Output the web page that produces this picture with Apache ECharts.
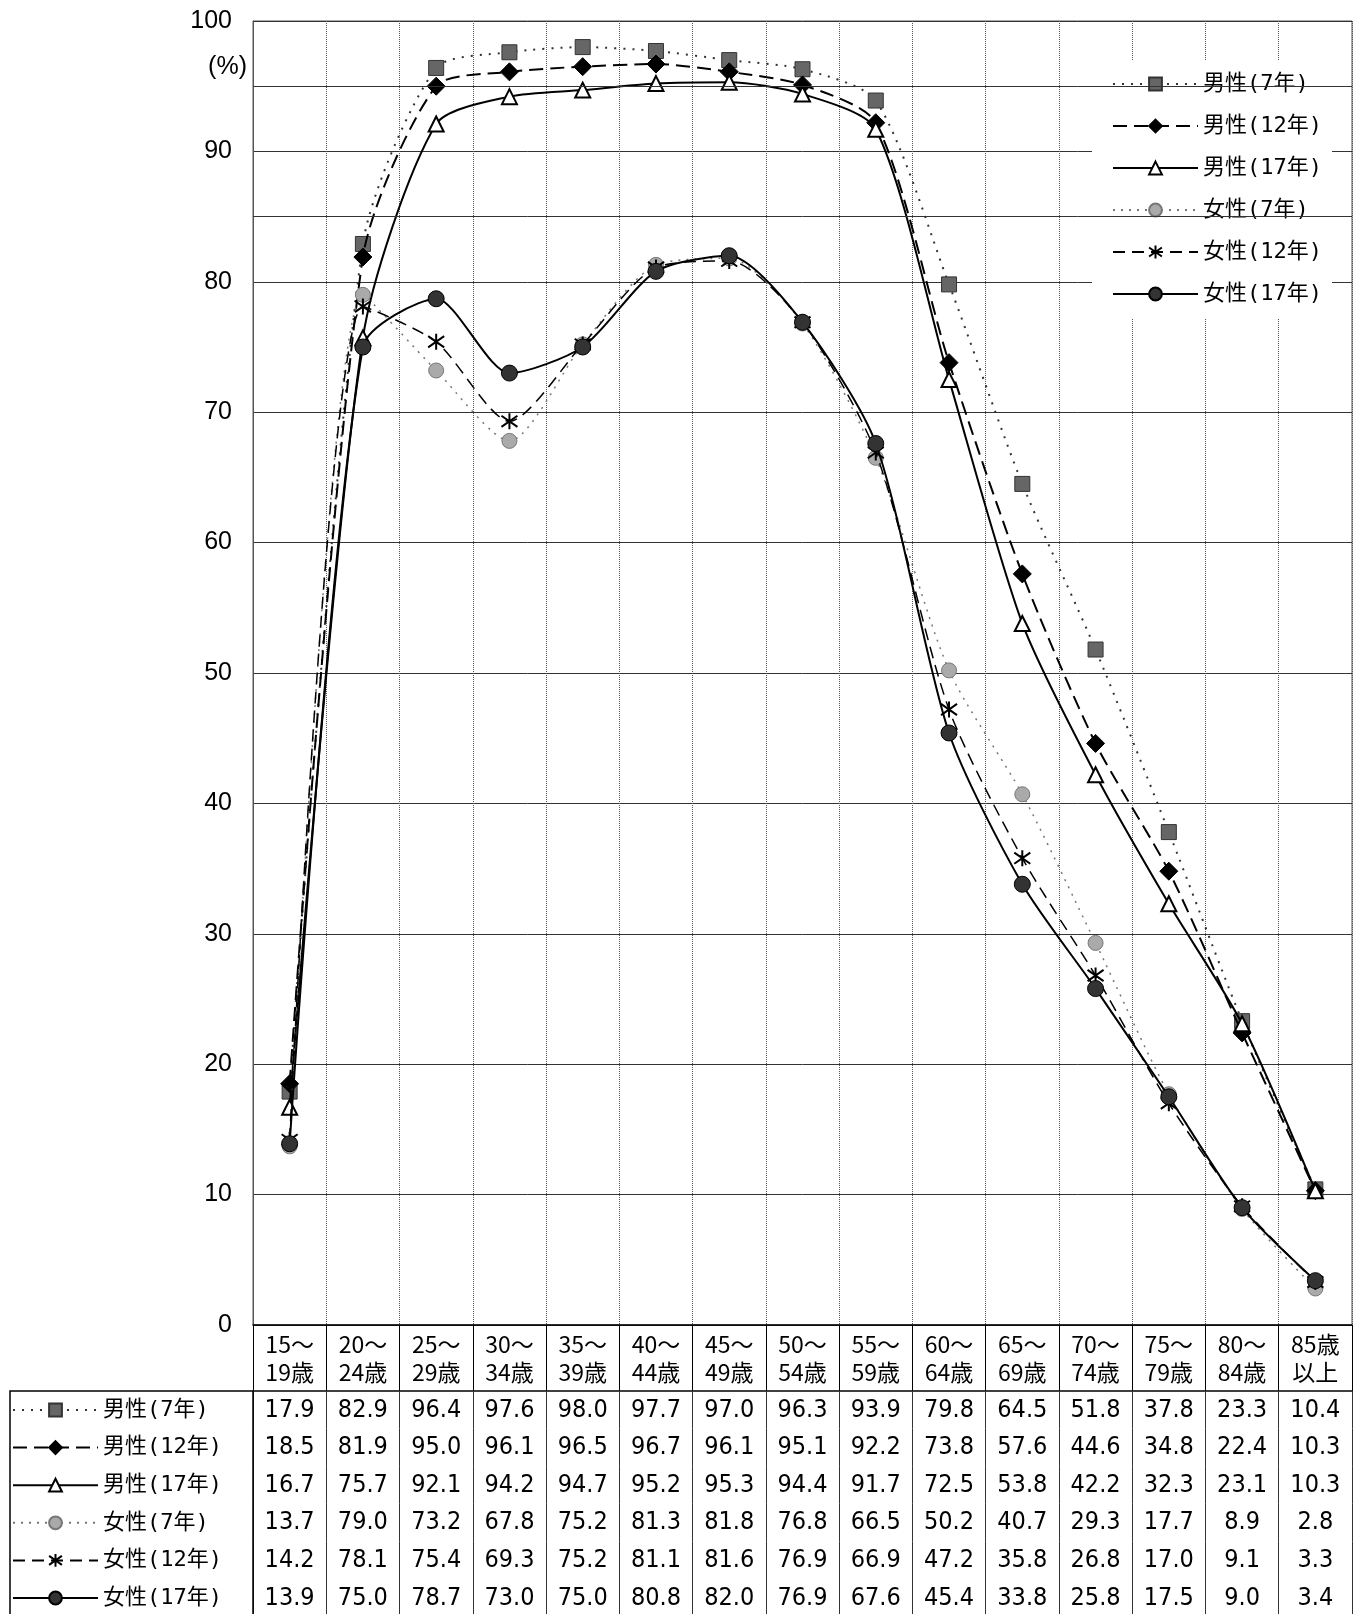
<!DOCTYPE html>
<html><head><meta charset="utf-8">
<script src="https://cdn.jsdelivr.net/npm/echarts@6/dist/echarts.min.js"></script>
<style>html,body{margin:0;padding:0;background:#fff}#c{width:1354px;height:1614px}</style>
</head><body><div id="c"></div>
<script>
const categories = ['15～\n19歳','20～\n24歳','25～\n29歳','30～\n34歳','35～\n39歳','40～\n44歳','45～\n49歳','50～\n54歳','55～\n59歳','60～\n64歳','65～\n69歳','70～\n74歳','75～\n79歳','80～\n84歳','85歳\n以上'];
const seriesNames = ['男性(7年)','男性(12年)','男性(17年)','女性(7年)','女性(12年)','女性(17年)'];
const male7   = [17.9, 82.9, 96.4, 97.6, 98.0, 97.7, 97.0, 96.3, 93.9, 79.8, 64.5, 51.8, 37.8, 23.3, 10.4];
const male12  = [18.5, 81.9, 95.0, 96.1, 96.5, 96.7, 96.1, 95.1, 92.2, 73.8, 57.6, 44.6, 34.8, 22.4, 10.3];
const male17  = [16.7, 75.7, 92.1, 94.2, 94.7, 95.2, 95.3, 94.4, 91.7, 72.5, 53.8, 42.2, 32.3, 23.1, 10.3];
const female7 = [13.7, 79.0, 73.2, 67.8, 75.2, 81.3, 81.8, 76.8, 66.5, 50.2, 40.7, 29.3, 17.7, 8.9, 2.8];
const female12= [14.2, 78.1, 75.4, 69.3, 75.2, 81.1, 81.6, 76.9, 66.9, 47.2, 35.8, 26.8, 17.0, 9.1, 3.3];
const female17= [13.9, 75.0, 78.7, 73.0, 75.0, 80.8, 82.0, 76.9, 67.6, 45.4, 33.8, 25.8, 17.5, 9.0, 3.4];
const extraGridLines = [85, 95];
const yMin = 0, yMax = 100, yStep = 10;

const rows = [male7, male12, male17, female7, female12, female17];
const JP = "'Noto Sans CJK JP', 'Noto Sans', sans-serif";
const LEG = "'DejaVu Sans Mono', 'Noto Sans CJK JP', sans-serif";
const NARROW = "'Liberation Sans Narrow', 'DejaVu Sans Condensed', 'Liberation Sans', sans-serif";

const styles = [
  {symbol:'rect', symbolSize:15, lineStyle:{color:'#333', width:2, type:[2,7]}, itemStyle:{color:'#666', borderColor:'#333', borderWidth:1}},
  {symbol:'diamond', symbolSize:18, lineStyle:{color:'#000', width:2, type:[14,7]}, itemStyle:{color:'#000', borderColor:'#000', borderWidth:1}},
  {symbol:'triangle', symbolSize:15, lineStyle:{color:'#000', width:2, type:'solid'}, itemStyle:{color:'#fff', borderColor:'#000', borderWidth:2}},
  {symbol:'circle', symbolSize:15, lineStyle:{color:'#777', width:1.5, type:[2,6]}, itemStyle:{color:'#aaa', borderColor:'#777', borderWidth:1}},
  {symbol:'path://M10,0 L10,20 M1,3 L19,17 M1,17 L19,3', symbolSize:16, lineStyle:{color:'#000', width:1.5, type:[12,7]}, itemStyle:{color:'#000', borderColor:'#000', borderWidth:2}},
  {symbol:'circle', symbolSize:16, lineStyle:{color:'#000', width:2, type:'solid'}, itemStyle:{color:'#333', borderColor:'#000', borderWidth:1}}
];

const series = rows.map((d, i) => Object.assign({
  type:'line', name: seriesNames[i], data: d, smooth: 0.25, showAllSymbol: true,
  xAxisIndex: 0, yAxisIndex: 0, z: 2 + i
}, styles[i], i === 0 ? {
  markLine: {silent:true, symbol:'none', label:{show:false},
    lineStyle:{color:'#333', type:'solid', width:1}, data: extraGridLines.map(v => ({yAxis:v}))}
} : {}));

const rowH = 37.6, headH = 66;
const xAxes = [{
  type:'category', data: categories, boundaryGap:true, gridIndex:0, position:'bottom',
  axisLine:{show:true, lineStyle:{color:'#000', width:1.5}},
  axisTick:{show:true, length:headH, lineStyle:{color:'#000'}},
  axisLabel:{interval:0, fontSize:23, lineHeight:28, color:'#000', margin:5, fontFamily:JP, hideOverlap:false},
  splitLine:{show:true, lineStyle:{type:'dotted', color:'#555', width:1}}
}];
rows.forEach((r, i) => {
  xAxes.push({
    type:'category', data: categories, boundaryGap:true, gridIndex:0, position:'bottom',
    offset: headH + rowH * i,
    axisLine:{show: i === 0, lineStyle:{color:'#000', width:1.5}},
    axisTick:{show:true, length:rowH, lineStyle:{color:'#333'}},
    axisLabel:{interval:0, fontSize:25, lineHeight:26, color:'#000', margin:6, fontFamily:NARROW, hideOverlap:false,
      formatter:(v, idx) => r[idx].toFixed(1)},
    splitLine:{show:false}
  });
});

const chart = echarts.init(document.getElementById('c'), null, {renderer:'canvas'});
chart.setOption({
  animation:false,
  backgroundColor:'#fff',
  grid:{left:253, top:21, right:2, bottom:289, show:true, borderColor:'#555', borderWidth:1, containLabel:false, outerBoundsMode:'none'},
  xAxis: xAxes,
  yAxis:{type:'value', min:yMin, max:yMax, interval:yStep,
    name:'(%)', nameLocation:'end', nameGap:-46,
    nameTextStyle:{fontSize:25, fontFamily:"'Liberation Sans', sans-serif", color:'#000', align:'right', verticalAlign:'middle', padding:[0,6,0,0]},
    axisLine:{show:true, lineStyle:{color:'#555'}}, axisTick:{show:false},
    axisLabel:{fontSize:25, fontFamily:"'Liberation Sans', sans-serif", color:'#000', margin:21},
    splitLine:{show:true, lineStyle:{color:'#333', width:1}}},
  legend:[{
    orient:'vertical', left:1092, top:60, padding:[12,10,12,20],
    backgroundColor:'#fff', itemWidth:85, itemHeight:16, itemGap:18,
    textStyle:{fontSize:22, lineHeight:24, color:'#000', fontFamily:LEG},
    data: seriesNames
  },{
    orient:'vertical', left:12, top:1398, padding:0,
    itemWidth:85, itemHeight:16, itemGap:rowH-24,
    textStyle:{fontSize:22, lineHeight:24, color:'#000', fontFamily:LEG},
    data: seriesNames, selectedMode:false
  }],
  graphic:[{type:'rect', shape:{x:10, y:1391, width:243, height:260}, style:{fill:'none', stroke:'#000', lineWidth:1.5}, z:10}],
  series: series
});
</script></body></html>
